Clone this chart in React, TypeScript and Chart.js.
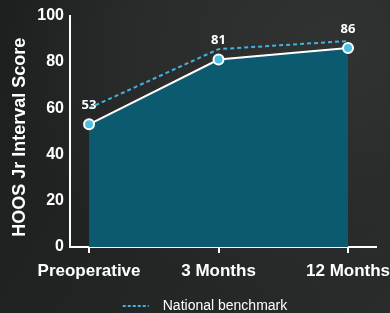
import React, { useEffect, useRef } from "react";
import { Chart, registerables } from "chart.js";

Chart.register(...registerables);

const categories = ["Preoperative", "3 Months", "12 Months"];
const scores = [53, 81, 86];
const benchmark = [60, 85.5, 89];
const yTicks = [0, 20, 40, 60, 80, 100];
const legendLabel = "National benchmark";
const yTitle = "HOOS Jr Interval Score";

const FONT = "'Liberation Sans', Arial, sans-serif";
const BENCH_COLOR = "#40b4dc";

const decorations = {
  id: "decorations",
  afterDatasetsDraw(chart: any) {
    const meta = chart.getDatasetMeta(0);
    const ctx = chart.ctx;
    ctx.save();
    ctx.fillStyle = "#ffffff";
    ctx.font = "bold 13px 'Open Sans'";
    ctx.textAlign = "center";
    ctx.textBaseline = "middle";
    meta.data.forEach((pt: any, i: number) => {
      ctx.fillText(String(scores[i]), pt.x, pt.y - 19);
    });
    ctx.restore();
  },
  afterDraw(chart: any) {
    const ctx = chart.ctx;
    const area = chart.chartArea;
    ctx.save();
    ctx.translate(20, (area.top + area.bottom) / 2 + 6);
    ctx.rotate(-Math.PI / 2);
    ctx.fillStyle = "#ffffff";
    ctx.font = `bold 18px ${FONT}`;
    ctx.textAlign = "center";
    ctx.textBaseline = "middle";
    ctx.fillText(yTitle, 0, 0);
    ctx.restore();

    ctx.save();
    ctx.font = `14px ${FONT}`;
    const tw = ctx.measureText(legendLabel).width;
    const sample = 26;
    const gap = 14;
    const total = sample + gap + tw;
    const x0 = chart.width / 2 + 10 - total / 2;
    const y = chart.height - 7;
    ctx.strokeStyle = BENCH_COLOR;
    ctx.lineWidth = 2;
    ctx.setLineDash([3, 2]);
    ctx.beginPath();
    ctx.moveTo(x0, y);
    ctx.lineTo(x0 + sample, y);
    ctx.stroke();
    ctx.setLineDash([]);
    ctx.fillStyle = "#ffffff";
    ctx.textAlign = "left";
    ctx.textBaseline = "middle";
    ctx.fillText(legendLabel, x0 + sample + gap, y);
    ctx.restore();
  },
};

export default function App() {
  const ref = useRef<HTMLCanvasElement>(null);
  useEffect(() => {
    if (!ref.current) return;
    const chart = new Chart(ref.current, {
      type: "line",
      data: {
        datasets: [
          {
            label: "Score",
            data: scores.map((v, i) => ({ x: i, y: v })),
            borderColor: "#ffffff",
            borderWidth: 2,
            backgroundColor: "#0b5a70",
            fill: "origin",
            tension: 0,
            pointRadius: 5,
            pointBorderWidth: 2,
            pointBorderColor: "#ffffff",
            pointBackgroundColor: "#4cbfe2",
            order: 2,
          },
          {
            label: legendLabel,
            data: benchmark.map((v, i) => ({ x: i, y: v })),
            borderColor: BENCH_COLOR,
            backgroundColor: BENCH_COLOR,
            borderWidth: 2,
            borderDash: [4, 3],
            fill: false,
            tension: 0,
            pointRadius: 0,
            order: 1,
          },
        ],
      },
      options: {
        animation: false,
        responsive: false,
        maintainAspectRatio: false,
        layout: { padding: { left: 4, right: 14, top: 8, bottom: 22 } },
        plugins: {
          tooltip: { enabled: false },
          legend: { display: false },
        },
        scales: {
          x: {
            type: "linear",
            min: -0.147,
            max: 2.216,
            afterBuildTicks: (axis: any) => {
              axis.ticks = categories.map((_, i) => ({ value: i }));
            },
            afterFit: (scale: any) => {
              scale.height = 44;
              scale.paddingLeft = 0;
              scale.paddingRight = 0;
            },
            ticks: {
              callback: (v: any) => categories[v as number] ?? "",
              color: "#ffffff",
              font: { family: FONT, size: 17, weight: "bold" },
              padding: 8,
              maxRotation: 0,
              autoSkip: false,
            },
            grid: {
              drawOnChartArea: false,
              drawTicks: true,
              tickLength: 6,
              color: "#ffffff",
              lineWidth: 2,
            },
            border: { color: "#ffffff", width: 2 },
          },
          y: {
            min: 0,
            max: 100,
            afterBuildTicks: (axis: any) => {
              axis.ticks = yTicks.map((v) => ({ value: v }));
            },
            afterFit: (scale: any) => {
              scale.width = 66;
            },
            ticks: {
              color: "#ffffff",
              font: { family: FONT, size: 16, weight: "bold" },
              padding: 6,
            },
            grid: { drawOnChartArea: false, drawTicks: false },
            border: { color: "#ffffff", width: 2 },
          },
        },
      },
      plugins: [decorations],
    } as any);
    return () => chart.destroy();
  }, []);

  return (
    <div
      style={{
        position: "fixed",
        left: 0,
        top: 0,
        width: 390,
        height: 313,
        background:
          "radial-gradient(ellipse at 85% 15%, #313333 0%, #2a2c2c 40%, transparent 70%), linear-gradient(120deg, #1c1f1e 0%, #222524 50%, #2a2c2c 100%)",
      }}
    >
      <canvas ref={ref} width={390} height={313} style={{ display: "block" }} />
    </div>
  );
}
